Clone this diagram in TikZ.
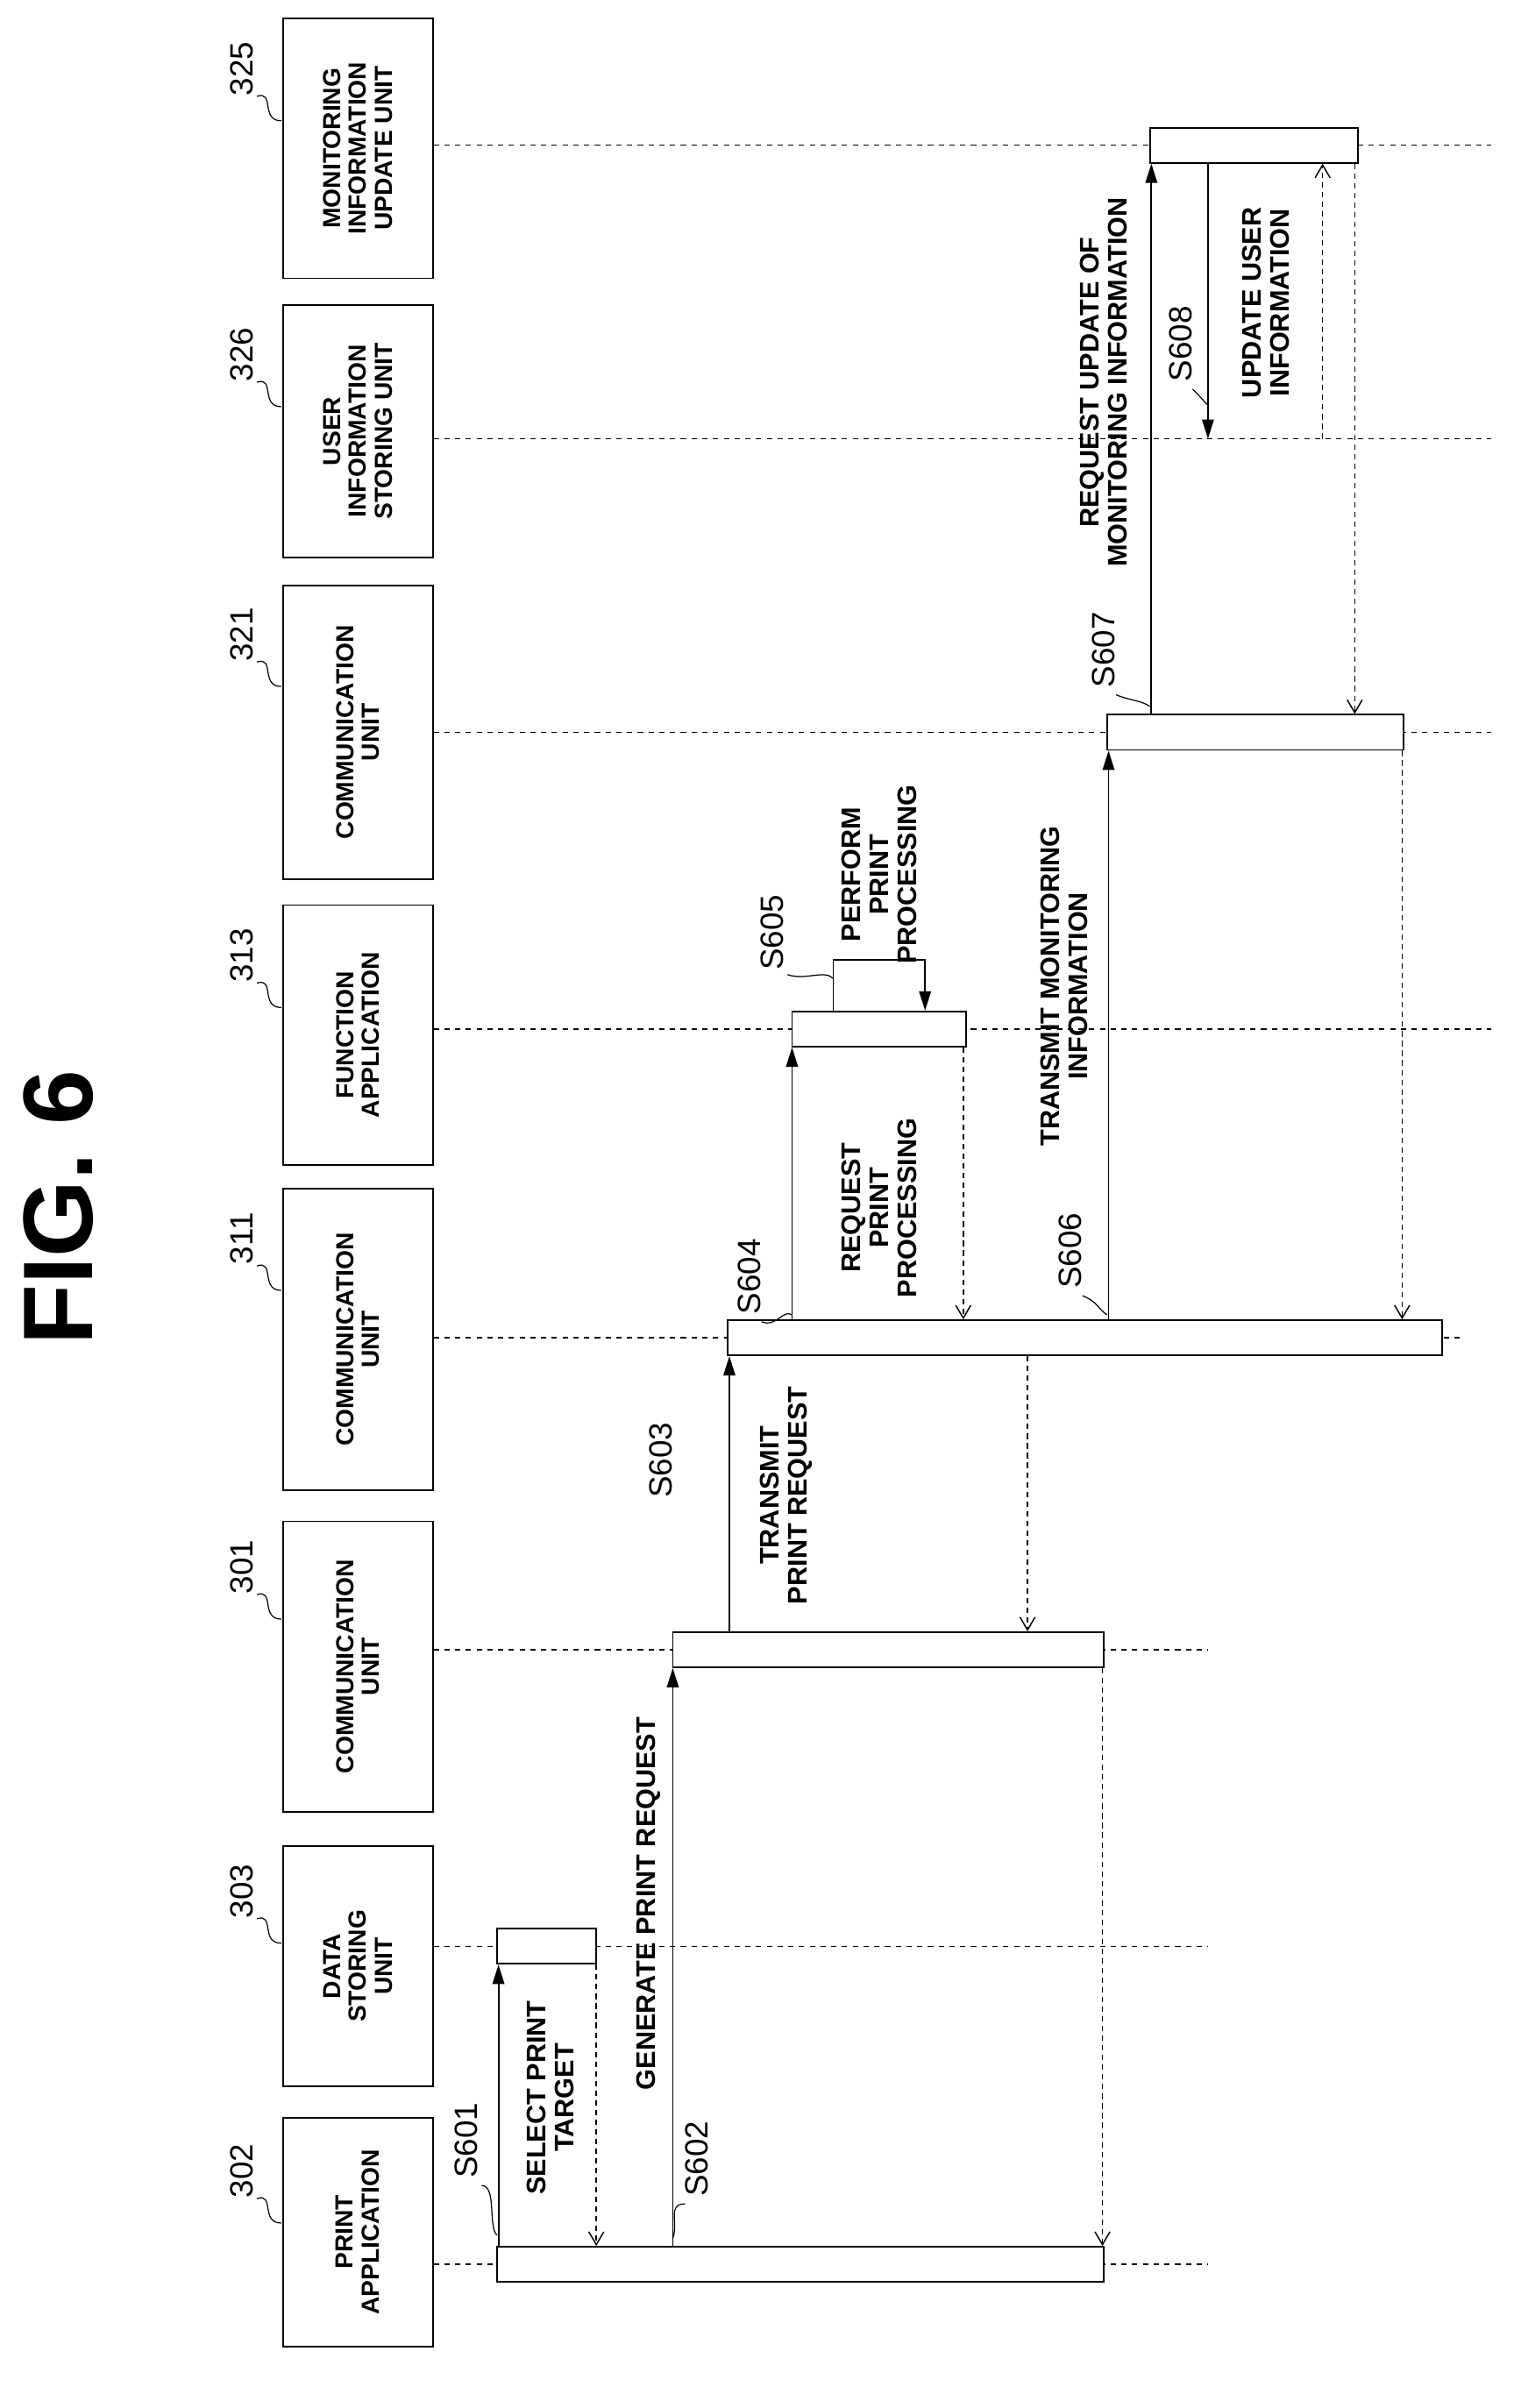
\documentclass[tikz,border=0pt]{standalone}
\usepackage{fontspec}
\setmainfont{Liberation Sans}
\usetikzlibrary{arrows.meta}
\begin{document}
\begin{tikzpicture}[x=0.05cm,y=-0.05cm,line width=1.5pt,
  box/.style={draw,rotate=90,minimum height=4.9cm,align=center,font=\fontsize{23}{24}\selectfont\bfseries,inner sep=2pt},
  num/.style={rotate=90,font=\fontsize{30}{30}\selectfont},
  stp/.style={rotate=90,font=\fontsize{30}{30}\selectfont},
  lab/.style={rotate=90,align=center,font=\fontsize{25}{26}\selectfont\bfseries,inner sep=1pt},
  bar/.style={draw,fill=white,minimum height=1.15cm,inner sep=0pt},
  life/.style={line width=1.2pt,dash pattern=on 5pt off 5pt},
  msg/.style={-{Triangle[length=18pt,width=11pt]}},
  ret/.style={line width=1.2pt,dash pattern=on 5pt off 4pt,-{Straight Barb[length=12pt,width=14pt,line width=1.2pt]}},
  sq/.style={line width=1pt}]
\useasboundingbox (0,0) rectangle (990,1575);
% title
\node[rotate=90,font=\fontsize{92}{92}\selectfont\bfseries] (title) at (38,790) {FIG. 6};
% unit boxes
\node[box,minimum width=7.5cm]  (u302) at (234,1460) {PRINT\\APPLICATION};
\node[box,minimum width=7.85cm] (u303) at (234,1286) {DATA\\STORING\\UNIT};
\node[box,minimum width=9.5cm]  (u301) at (234,1090) {COMMUNICATION\\UNIT};
\node[box,minimum width=9.85cm] (u311) at (234,876) {COMMUNICATION\\UNIT};
\node[box,minimum width=8.5cm]  (u313) at (234,677) {FUNCTION\\APPLICATION};
\node[box,minimum width=9.6cm]  (u321) at (234,479) {COMMUNICATION\\UNIT};
\node[box,minimum width=8.25cm] (u326) at (234,282) {USER\\INFORMATION\\STORING UNIT};
\node[box,minimum width=8.5cm]  (u325) at (234,97) {MONITORING\\INFORMATION\\UPDATE UNIT};
% numbers
\node[num] (n302) at (158,1420) {302};
\node[num] (n303) at (158,1237) {303};
\node[num] (n301) at (158,1025) {301};
\node[num] (n311) at (158,810) {311};
\node[num] (n313) at (158,625) {313};
\node[num] (n321) at (158,415) {321};
\node[num] (n326) at (158,232) {326};
\node[num] (n325) at (158,45) {325};
\foreach \y in {1420,1237,1025,810,625,415,232,45}
  \draw[sq] (168,\y+18) .. controls (180,\y+14) and (170,\y+34) .. (184,\y+34);
% lifelines
\draw[life] (u302.south |- 0,1481) -- (790,1481);
\draw[life] (u303.south |- 0,1273) -- (790,1273);
\draw[life] (u301.south |- 0,1079) -- (790,1079);
\draw[life] (u311.south |- 0,875) -- (955,875);
\draw[life] (u313.south |- 0,673) -- (975,673);
\draw[life] (u321.south |- 0,479) -- (975,479);
\draw[life] (u326.south |- 0,287) -- (975,287);
\draw[life] (u325.south |- 0,95) -- (975,95);
% bars
\node[bar,minimum width=19.85cm] (b302) at (523.5,1481) {};
\node[bar,minimum width=3.25cm]  (b303) at (357.5,1273) {};
\node[bar,minimum width=14.1cm]  (b301) at (581,1079) {};
\node[bar,minimum width=23.35cm] (b311) at (709.5,875) {};
\node[bar,minimum width=5.7cm]   (b313) at (575,673) {};
\node[bar,minimum width=9.7cm]   (b321) at (821,479) {};
\node[bar,minimum width=6.8cm]   (b325) at (820,95) {};
% messages
\draw[msg] (b302.north -| 326,0) -- (b303.south -| 326,0);
\draw[ret] (b303.south -| 390,0) -- (b302.north -| 390,0);
\draw[msg] (b302.north -| 440,0) -- (b301.south -| 440,0);
\draw[msg] (b301.north -| 477,0) -- (b311.south -| 477,0);
\draw[msg] (b311.north -| 518,0) -- (b313.south -| 518,0);
\draw[msg] (b313.north -| 545,0) -- (545,628) -- (605,628) -- (b313.north -| 605,0);
\draw[ret] (b313.south -| 630,0) -- (b311.north -| 630,0);
\draw[ret] (b311.south -| 672,0) -- (b301.north -| 672,0);
\draw[ret] (b301.south -| 721,0) -- (b302.north -| 721,0);
\draw[msg] (b311.north -| 725,0) -- (b321.south -| 725,0);
\draw[msg] (b321.north -| 753,0) -- (b325.south -| 753,0);
\draw[msg] (b325.south -| 790,0) -- (790,287);
\draw[ret] (865,287) -- (b325.south -| 865,0);
\draw[ret] (b325.south -| 886,0) -- (b321.north -| 886,0);
\draw[ret] (b321.south -| 917,0) -- (b311.north -| 917,0);
% labels
\node[lab] (l601) at (360,1372) {SELECT PRINT\\TARGET};
\node[lab] (l602) at (424,1245) {GENERATE PRINT REQUEST};
\node[lab] (l603) at (514,978) {TRANSMIT\\PRINT REQUEST};
\node[lab] (l604) at (575,790) {REQUEST\\PRINT\\PROCESSING};
\node[lab] (l605) at (575,572) {PERFORM\\PRINT\\PROCESSING};
\node[lab] (l606) at (696,645) {TRANSMIT MONITORING\\INFORMATION};
\node[lab] (l607) at (722,250) {REQUEST UPDATE OF\\MONITORING INFORMATION};
\node[lab] (l608) at (828,198) {UPDATE USER\\INFORMATION};
% step numbers
\node[stp] (s601) at (305,1400) {S601};
\node[stp] (s602) at (456,1412) {S602};
\node[stp] (s603) at (432,955) {S603};
\node[stp] (s604) at (490,835) {S604};
\node[stp] (s605) at (505,610) {S605};
\node[stp] (s606) at (700,818) {S606};
\node[stp] (s607) at (722,425) {S607};
\node[stp] (s608) at (772,225) {S608};
\draw[sq] (s601.west) ++(10,2) .. controls +(10,0) and +(-6,-6) .. (325,1462);
\draw[sq] (s602.west) ++(-8,2) .. controls +(-12,0) and +(4,-10) .. (440,1464);
\draw[sq] (s604.west) ++(8,2) .. controls +(10,4) and +(-6,-4) .. (518,860);
\draw[sq] (s605.west) ++(10,0) .. controls +(12,4) and +(-6,-6) .. (545,640);
\draw[sq] (s606.west) ++(8,2) .. controls +(10,4) and +(-6,-4) .. (724,860);
\draw[sq] (s607.west) ++(8,2) .. controls +(10,4) and +(-6,-4) .. (752,462);
\draw[sq] (s608.west) ++(8,2) .. controls +(6,6) and +(-4,-4) .. (790,265);
\end{tikzpicture}
\end{document}
